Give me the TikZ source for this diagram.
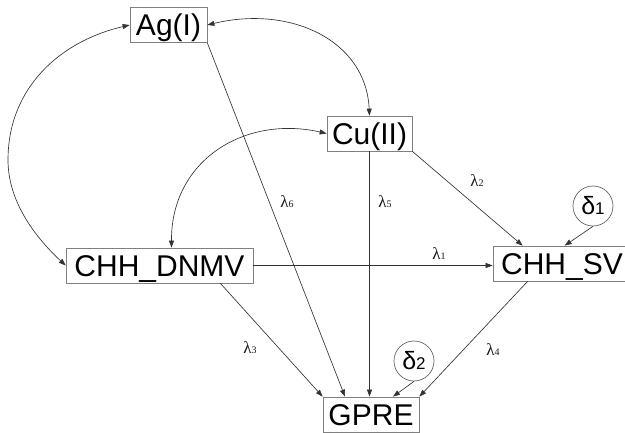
\documentclass[tikz,border=0pt]{standalone}
\usepackage{fontspec}
\setmainfont{Liberation Sans}
\newfontfamily\lamfont{Liberation Serif}
\usetikzlibrary{arrows.meta}
\newcommand\lamsub[1]{{\fontsize{10}{10}\selectfont #1}}
\newcommand\delsub[1]{{\fontsize{17}{17}\selectfont #1}}
\begin{document}
\begin{tikzpicture}[x=1pt,y=-1pt,
  box/.style={draw=black!50, line width=0.7pt, minimum height=35pt, text height=22pt, text depth=0pt, inner xsep=0pt, font=\fontsize{30}{30}\selectfont, text=black},
  err/.style={draw=black!60, line width=0.7pt, circle, minimum size=40pt, inner sep=0pt, font=\fontsize{25}{25}\selectfont, text=black},
  conn/.style={draw=black!80, line width=0.65pt, -{Triangle[length=7pt,width=5pt]}},
  biconn/.style={draw=black!80, line width=0.65pt, {Triangle[length=7pt,width=5pt]}-{Triangle[length=7pt,width=5pt]}},
  lab/.style={font=\lamfont\fontsize{17}{17}\selectfont, text=black!90, inner sep=0pt}]
\useasboundingbox[fill=white] (0,0) rectangle (625,433);

\node[box, minimum width=77pt] (ag) at (168.5,25) {Ag(I)};
\node[box, minimum width=85pt] (cu) at (369.5,133.5) {Cu(II)};
\node[box, minimum width=187pt] (dn) at (159.5,265.5) {CHH\_DNMV};
\node[box, minimum width=138pt] (sv) at (562,263.5) {CHH\_SV};
\node[box, minimum width=96pt] (gp) at (371,414.5) {GPRE};
\node[err] (d1) at (593,206) {δ\delsub{1}};
\node[err] (d2) at (414,361) {δ\delsub{2}};

\coordinate (lc) at (8,160);
\draw[biconn] (ag.west) .. controls (61,41) and (8,87) .. (lc) .. controls (8,200) and (33,235) .. (dn.west);
\draw[biconn] (ag.east) .. controls (290,5) and (366,40) .. (cu.north);
\draw[biconn] (cu.west) .. controls (245,115) and (171,160) .. ([xshift=12pt]dn.north);

\draw[conn] (ag.south east) -- ([xshift=-26pt]gp.north);
\draw[conn] (cu.south) -- (cu.south |- gp.north);
\draw[conn] (cu.south east) -- ([xshift=30pt]sv.north west);
\draw[conn] (dn.east) -- (dn.east -| sv.west);
\draw[conn] ([xshift=-33pt]dn.south east) -- (gp.north west);
\draw[conn] ([xshift=35pt]sv.south west) -- (gp.north east);
\draw[conn] (d1.south) -- ([xshift=72pt]sv.north west);
\draw[conn] (d2.south) -- ([xshift=22pt]gp.north);

\node[lab] (l1) at (439,254) {λ\lamsub{1}};
\node[lab] (l2) at (477,181) {λ\lamsub{2}};
\node[lab] (l3) at (250,348) {λ\lamsub{3}};
\node[lab] (l4) at (493,350) {λ\lamsub{4}};
\node[lab] (l5) at (385,202) {λ\lamsub{5}};
\node[lab] (l6) at (287,202) {λ\lamsub{6}};
\end{tikzpicture}
\end{document}
